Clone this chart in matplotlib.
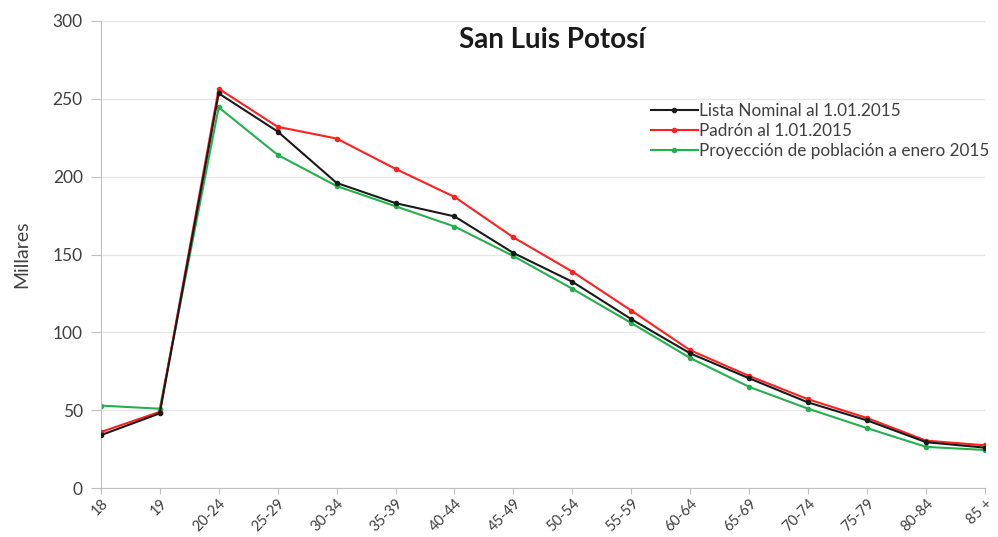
import matplotlib
matplotlib.use("Agg")
import matplotlib.pyplot as plt

plt.rcParams["font.family"] = ["Lato", "DejaVu Sans"]

grupos = ["18", "19", "20-24", "25-29", "30-34", "35-39", "40-44", "45-49",
          "50-54", "55-59", "60-64", "65-69", "70-74", "75-79", "80-84", "85 +"]

lista_nominal = [34, 48, 253.5, 229, 196, 183, 174.5, 151, 132.5, 108.5,
                 86.5, 70.5, 55, 43.5, 29.5, 26]
padron = [36, 49, 256.5, 232, 224.5, 205, 187, 161, 139, 114,
          88.5, 72, 57, 45, 30.5, 27.5]
proyeccion = [53, 51, 244.5, 214, 194, 181, 168, 149, 128, 106,
              83.5, 65, 51, 38.5, 26.5, 24.5]

fig = plt.figure(figsize=(9.98, 5.37), dpi=100)
ax = fig.add_axes([0.101, 0.091, 0.886, 0.870])

x = list(range(len(grupos)))
ax.plot(x, lista_nominal, color="#1a1a1a", lw=1.5, marker="o", ms=3,
        label="Lista Nominal al 1.01.2015", zorder=4)
ax.plot(x, padron, color="#ff2020", lw=1.5, marker="o", ms=3,
        label="Padrón al 1.01.2015", zorder=3)
ax.plot(x, proyeccion, color="#22b14c", lw=1.5, marker="o", ms=3,
        label="Proyección de población a enero 2015", zorder=2)

ax.set_xlim(0, 15)
ax.set_ylim(0, 300)
ax.set_yticks(range(0, 301, 50))
ax.set_xticks(x)
ax.set_xticklabels(grupos, rotation=45, ha="right", rotation_mode="anchor",
                   fontsize=10.5, color="#404040")
ax.tick_params(axis="y", labelsize=12.5, length=7, width=0.8, pad=6,
               colors="#bfbfbf", labelcolor="#404040")
ax.tick_params(axis="x", length=4, width=0.8, colors="#bfbfbf",
               labelcolor="#404040", pad=2)

ax.grid(axis="y", color="#e6e6e6", lw=0.9)
ax.set_axisbelow(True)
for s in ["top", "right"]:
    ax.spines[s].set_visible(False)
ax.spines["left"].set_color("#bfbfbf")
ax.spines["bottom"].set_color("#bfbfbf")

ax.set_ylabel("Millares", fontsize=14, color="#404040", labelpad=16)

fig.text(0.553, 0.925, "San Luis Potosí", ha="center", va="center",
         fontsize=20, fontweight="bold", color="#1a1a1a")

leg = ax.legend(loc="upper left", bbox_to_anchor=(0.615, 0.84), frameon=False,
                fontsize=12.3, handlelength=2.7, handletextpad=0.1,
                labelspacing=0.25, borderaxespad=0)
for t in leg.get_texts():
    t.set_color("#404040")

fig.savefig("out.png", dpi=100)
